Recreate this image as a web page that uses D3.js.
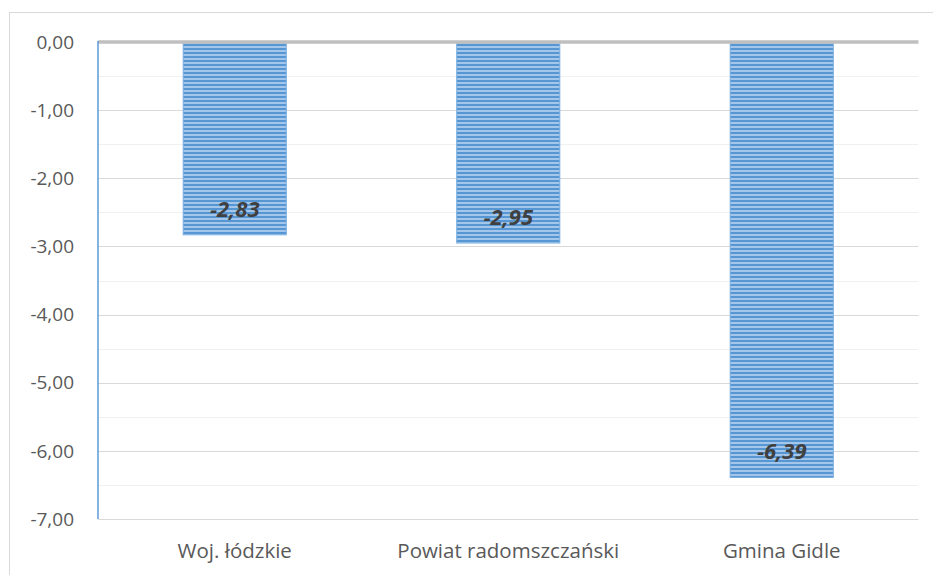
<!DOCTYPE html>
<html>
<head>
<meta charset="utf-8">
<script src="https://cdn.jsdelivr.net/npm/d3@7"></script>
<style>
  html, body { margin: 0; padding: 0; background: #fff; }
  svg text { font-family: "Open Sans", "Liberation Sans", sans-serif; }
</style>
</head>
<body>
<svg id="chart" width="933" height="575"></svg>
<script>
const categories = ["Woj. łódzkie", "Powiat radomszczański", "Gmina Gidle"];
const values = [-2.83, -2.95, -6.39];
const yTicks = [0, -1, -2, -3, -4, -5, -6, -7];

const W = 933, H = 575;
const plot = { left: 98, right: 918.5, top: 42, bottom: 519 };

const fmt = v => v.toFixed(2).replace(".", ",");

const svg = d3.select("#chart");

// outer chart frame
svg.append("rect")
  .attr("x", 9.5).attr("y", 12.5)
  .attr("width", W).attr("height", H)
  .attr("fill", "#fff").attr("stroke", "#d9d9d9");

// stripe pattern for bars
const defs = svg.append("defs");
const pat = defs.append("pattern")
  .attr("id", "stripes")
  .attr("patternUnits", "userSpaceOnUse")
  .attr("width", 8).attr("height", 4);
pat.append("rect").attr("width", 8).attr("height", 4).attr("fill", "#a4c6ea");
pat.append("rect").attr("y", 0).attr("width", 8).attr("height", 2).attr("fill", "#5696d3");

const x = d3.scaleBand()
  .domain(categories)
  .range([plot.left, plot.right])
  .paddingInner(0.623)
  .paddingOuter(0.3115);

const y = d3.scaleLinear()
  .domain([-7, 0])
  .range([plot.bottom, plot.top]);

// minor gridlines (half units)
svg.append("g")
  .selectAll("line")
  .data(d3.range(-6.5, 0, 1))
  .join("line")
  .attr("x1", plot.left).attr("x2", plot.right)
  .attr("y1", d => Math.round(y(d)) + 0.5).attr("y2", d => Math.round(y(d)) + 0.5)
  .attr("stroke", "#f0f0f0");

// major gridlines
svg.append("g")
  .selectAll("line")
  .data(yTicks.filter(d => d !== 0))
  .join("line")
  .attr("x1", plot.left).attr("x2", plot.right)
  .attr("y1", d => Math.round(y(d)) + 0.5).attr("y2", d => Math.round(y(d)) + 0.5)
  .attr("stroke", "#d9d9d9");

// y labels
svg.append("g")
  .selectAll("text")
  .data(yTicks)
  .join("text")
  .attr("x", 74)
  .attr("y", d => y(d))
  .attr("dy", "0.35em")
  .attr("text-anchor", "end")
  .attr("font-size", 19)
  .attr("fill", "#595959")
  .text(fmt);

// bars
svg.append("g")
  .selectAll("rect")
  .data(values)
  .join("rect")
  .attr("x", (d, i) => x(categories[i]))
  .attr("y", y(0))
  .attr("width", x.bandwidth())
  .attr("height", d => y(d) - y(0))
  .attr("fill", "url(#stripes)")
  .attr("stroke", "#7aaee0")
  .attr("stroke-width", 1);

// zero line
svg.append("line")
  .attr("x1", plot.left).attr("x2", plot.right)
  .attr("y1", y(0)).attr("y2", y(0))
  .attr("stroke", "#bfbfbf").attr("stroke-width", 3.5);

// vertical axis
svg.append("line")
  .attr("x1", plot.left).attr("x2", plot.left)
  .attr("y1", y(0) - 1).attr("y2", plot.bottom)
  .attr("stroke", "#5b9bd5").attr("stroke-width", 1.5);

// data labels
svg.append("g")
  .selectAll("text")
  .data(values)
  .join("text")
  .attr("x", (d, i) => x(categories[i]) + x.bandwidth() / 2)
  .attr("y", d => y(d) - 26)
  .attr("dy", "0.35em")
  .attr("text-anchor", "middle")
  .attr("font-size", 22)
  .attr("font-weight", "bold")
  .attr("font-style", "italic")
  .attr("fill", "#404040")
  .text(fmt);

// category labels
svg.append("g")
  .selectAll("text")
  .data(categories)
  .join("text")
  .attr("x", d => x(d) + x.bandwidth() / 2)
  .attr("y", 551)
  .attr("dy", "0.35em")
  .attr("text-anchor", "middle")
  .attr("font-size", 20.5)
  .attr("fill", "#595959")
  .text(d => d);
</script>
</body>
</html>
